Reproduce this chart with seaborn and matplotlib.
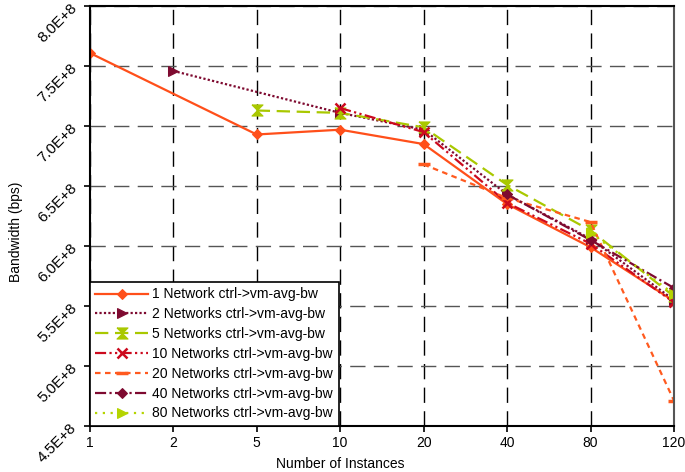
import matplotlib
matplotlib.use('Agg')
import matplotlib.pyplot as plt
from matplotlib.ticker import FuncFormatter
import numpy as np
import seaborn as sns

# data (bandwidth in units of 1E+8 bps), NaN where a series has no point
instances = ['1', '2', '5', '10', '20', '40', '80', '120']
nan = np.nan
net1 = [7.61, nan, 6.93, 6.97, 6.85, 6.35, 5.99, 5.54]
net2 = [nan, 7.46, nan, 7.11, 6.97, 6.43, 6.06, 5.55]
net5 = [nan, nan, 7.13, 7.11, 6.99, 6.51, 6.13, 5.58]
net10 = [nan, nan, nan, 7.15, 6.95, 6.36, 6.02, 5.53]
net20 = [nan, nan, nan, nan, 6.68, 6.40, 6.20, 4.71]
net40 = [nan, nan, nan, nan, nan, 6.43, 6.05, 5.65]
net80 = [nan, nan, nan, nan, nan, nan, 6.11, 5.60]

labels = ['1 Network ctrl->vm-avg-bw', '2 Networks ctrl->vm-avg-bw',
          '5 Networks ctrl->vm-avg-bw', '10 Networks ctrl->vm-avg-bw',
          '20 Networks ctrl->vm-avg-bw', '40 Networks ctrl->vm-avg-bw',
          '80 Networks ctrl->vm-avg-bw']

hourglass = [(-1, 1), (1, 1), (-1, -1), (1, -1), (-1, 1)]

styles = [
    dict(color='#FF4F1A', linestyle='-', marker='D', markersize=5),
    dict(color='#7E0A30', linestyle=(0, (1, 1)), marker='>', markersize=7),
    dict(color='#A9C800', linestyle=(0, (6, 3)), marker=hourglass, markersize=8),
    dict(color='#CC0A1E', linestyle=(0, (5, 1.5, 1, 1.5, 1, 1.5)), marker='x', markersize=7, markeredgewidth=1.8),
    dict(color='#FF5A1F', linestyle=(0, (2.5, 2)), marker='_', markersize=9, markeredgewidth=2.5),
    dict(color='#7E0A30', linestyle=(0, (5, 1.5, 1, 1.5)), marker='D', markersize=5),
    dict(color='#B5D400', linestyle=(0, (1, 2.5)), marker='>', markersize=7),
]

plt.rcParams['font.family'] = ['Liberation Sans', 'DejaVu Sans']
plt.rcParams['font.size'] = 10

fig = plt.figure(figsize=(6.85, 4.72), dpi=100)
ax = fig.add_axes([0.131, 0.0975, 0.853, 0.8895])

pos = np.arange(len(instances))
for vals, lab, st in zip([net1, net2, net5, net10, net20, net40, net80], labels, styles):
    v = np.array(vals)
    ok = ~np.isnan(v)
    sns.lineplot(x=pos[ok], y=v[ok] * 1e8, ax=ax, label=lab, linewidth=1.6,
                 markeredgecolor=st['color'], **st)

ax.set_xlim(0, len(instances) - 1)
ax.set_ylim(4.5e8, 8.0e8)
ax.set_xticks(pos)
ax.set_xticklabels(instances)
ax.set_yticks(np.arange(4.5e8, 8.01e8, 0.5e8))
ax.yaxis.set_major_formatter(FuncFormatter(lambda v, p: '%.1fE+8' % (v / 1e8)))
for t in ax.get_yticklabels():
    t.set_rotation(45)
    t.set_rotation_mode('anchor')
    t.set_va('center')
    t.set_ha('right')
    t.set_fontsize(11)

ax.xaxis.grid(True, color='black', linestyle=(0, (11, 6)), linewidth=1)
ax.yaxis.grid(True, color='#555555', linestyle=(0, (11, 6)), linewidth=1)
ax.set_axisbelow(True)
ax.tick_params(direction='out', length=4, width=1.2, color='black')
ax.tick_params(axis='y', pad=7)
for s in ['left', 'bottom', 'top']:
    ax.spines[s].set_color('black')
    ax.spines[s].set_linewidth(1.5)
ax.spines['right'].set_color('#555555')
ax.spines['right'].set_linewidth(1.5)

ax.set_xlabel('Number of Instances', labelpad=2)
ax.xaxis.set_label_coords(0.428, -0.075)
ax.set_ylabel('Bandwidth (bps)')
ax.yaxis.set_label_coords(-0.115, 0.462)

leg = ax.legend(loc='lower left', frameon=True, fancybox=False, framealpha=1,
                edgecolor='black', handlelength=3.8, labelspacing=0.42,
                borderpad=0.4, handletextpad=0.3, borderaxespad=0)
leg.get_frame().set_linewidth(1.2)

plt.savefig('out.png', dpi=100)
